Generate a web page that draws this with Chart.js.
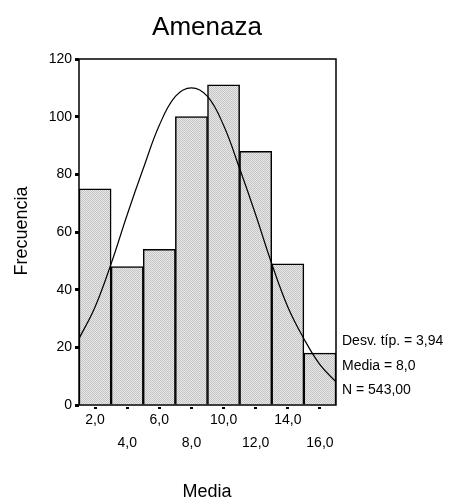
<!DOCTYPE html>
<html>
<head>
<meta charset="utf-8">
<script src="https://cdn.jsdelivr.net/npm/chart.js@4/dist/chart.umd.min.js"></script>
<style>
  html, body { margin: 0; padding: 0; background: #ffffff; }
  canvas { display: block; }
</style>
</head>
<body>
<canvas id="histChart" width="452" height="501"></canvas>
<script>
const binCenters = [2, 4, 6, 8, 10, 12, 14, 16];
const frequencies = [75, 48, 54, 100, 111, 88, 49, 18];
const curveX = [1, 2, 3, 4, 5, 6, 7, 8, 9, 10, 11, 12, 13, 14, 15, 16, 17];
const curveY = [23, 34, 49, 66, 82, 97, 107, 110, 107, 97, 82, 66, 49, 34, 23, 14, 8];
const xTickValues = [2, 4, 6, 8, 10, 12, 14, 16];
const xTickLabels = ['2,0', '4,0', '6,0', '8,0', '10,0', '12,0', '14,0', '16,0'];
const yTickValues = [0, 20, 40, 60, 80, 100, 120];
const statLines = ['Desv. típ. = 3,94', 'Media = 8,0', 'N = 543,00'];

const fontFamily = '"Liberation Sans", Arial, sans-serif';

const makePattern = () => {
  const tile = document.createElement('canvas');
  tile.width = 2;
  tile.height = 2;
  const tctx = tile.getContext('2d');
  tctx.fillStyle = '#e8e8e8';
  tctx.fillRect(0, 0, 2, 2);
  tctx.fillStyle = '#c4c4c4';
  tctx.fillRect(0, 0, 1, 1);
  tctx.fillRect(1, 1, 1, 1);
  return document.getElementById('histChart').getContext('2d').createPattern(tile, 'repeat');
};

const textPlugin = {
  id: 'spssText',
  afterDatasetsDraw: (chart) => {
    const { ctx, chartArea } = chart;
    ctx.save();
    ctx.strokeStyle = '#000000';
    ctx.lineWidth = 1.5;
    ctx.strokeRect(chartArea.left, chartArea.top, chartArea.right - chartArea.left, chartArea.bottom - chartArea.top);
    ctx.restore();
  },
  afterDraw: (chart) => {
    const { ctx, chartArea } = chart;
    ctx.save();
    ctx.fillStyle = '#000000';

    ctx.font = `26px ${fontFamily}`;
    ctx.textAlign = 'center';
    ctx.textBaseline = 'alphabetic';
    ctx.fillText('Amenaza', 207, 35);

    ctx.font = `18px ${fontFamily}`;
    ctx.fillText('Media', 207, 497);

    ctx.save();
    ctx.translate(27, 231);
    ctx.rotate(-Math.PI / 2);
    ctx.fillText('Frecuencia', 0, 0);
    ctx.restore();

    ctx.font = `14px ${fontFamily}`;
    ctx.textAlign = 'left';
    statLines.forEach((line, index) => {
      ctx.fillText(line, chartArea.right + 6, 345 + index * 24.5);
    });
    ctx.restore();
  }
};

new Chart(document.getElementById('histChart'), {
  data: {
    datasets: [
      {
        type: 'line',
        data: curveX.map((x, i) => ({ x, y: curveY[i] })),
        borderColor: '#000000',
        borderWidth: 1.2,
        pointRadius: 0,
        tension: 0.4,
        fill: false,
        order: 0
      },
      {
        type: 'bar',
        data: binCenters.map((x, i) => ({ x, y: frequencies[i] })),
        backgroundColor: makePattern(),
        borderColor: '#000000',
        borderWidth: 1.5,
        barPercentage: 1,
        categoryPercentage: 1,
        order: 1
      }
    ]
  },
  options: {
    responsive: false,
    animation: false,
    devicePixelRatio: 1,
    layout: {
      padding: { left: 0, top: 59, right: 116, bottom: 0 }
    },
    plugins: {
      legend: { display: false },
      tooltip: { enabled: false }
    },
    scales: {
      x: {
        type: 'linear',
        min: 1,
        max: 17,
        offset: false,
        afterFit: (scale) => {
          scale.height = 96;
        },
        afterBuildTicks: (scale) => {
          scale.ticks = xTickValues.map((value) => ({ value }));
        },
        border: { display: false },
        grid: {
          offset: false,
          drawOnChartArea: false,
          tickLength: 4,
          tickWidth: 3,
          tickColor: '#000000',
          tickBorderDash: [0, 2, 2, 20]
        },
        ticks: {
          autoSkip: false,
          maxRotation: 0,
          padding: 0,
          color: '#000000',
          font: { family: fontFamily, size: 14, lineHeight: 23 / 14 },
          callback: (value, index) => {
            const label = xTickLabels[xTickValues.indexOf(value)];
            return index % 2 === 0 ? [label, ''] : ['', label];
          }
        }
      },
      y: {
        min: 0,
        max: 120,
        afterFit: (scale) => {
          scale.width = 79;
        },
        afterBuildTicks: (scale) => {
          scale.ticks = yTickValues.map((value) => ({ value }));
        },
        border: { display: false },
        grid: {
          drawOnChartArea: false,
          tickLength: 4,
          tickWidth: 3,
          tickColor: '#000000'
        },
        ticks: {
          padding: 3,
          color: '#000000',
          font: { family: fontFamily, size: 14 }
        }
      }
    }
  },
  plugins: [textPlugin]
});
</script>
</body>
</html>
